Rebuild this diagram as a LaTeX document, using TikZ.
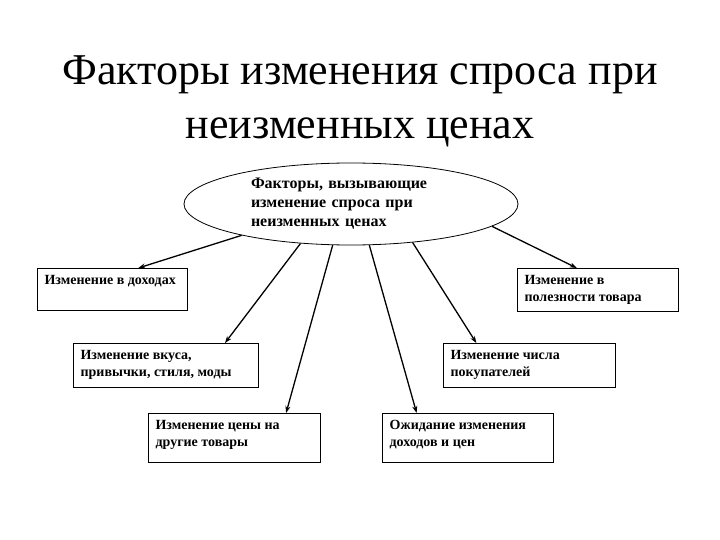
\documentclass[tikz,border=0pt]{standalone}
\usepackage{fontspec}
\setmainfont{Liberation Serif}
\usetikzlibrary{shapes.geometric,arrows.meta}

\newcommand{\factortext}[3]{\parbox[c][#2][t]{#1}{\vspace*{7pt}#3}}

\begin{document}
\begin{tikzpicture}[x=1pt, y=-1pt]
    \tikzstyle{factorbox}=[draw=black, line width=1.2pt, inner xsep=7pt, inner ysep=0pt, anchor=north west, align=left, font=\bfseries\fontsize{14}{17}\selectfont]
    \tikzstyle{factorarrow}=[line width=1.3pt, -{Stealth[length=7pt, width=5pt]}]

    \useasboundingbox (0,0) rectangle (720,540);

    \node[align=center, font=\fontsize{44}{54}\selectfont] (title) at (360,101) {Факторы изменения спроса при\\неизменных ценах};

    \node[draw=black, line width=0.8pt, ellipse, minimum width=334pt, minimum height=82pt, inner sep=0pt,
          text width=200pt, align=left, font=\bfseries\fontsize{16}{19}\selectfont] (main) at (351,204)
          {Факторы, вызывающие\\изменение спроса при\\неизменных ценах};

    \node[factorbox] (income) at (37,268) {\factortext{136pt}{42pt}{Изменение в доходах}};
    \node[factorbox] (taste) at (73,343) {\factortext{171pt}{44pt}{Изменение вкуса,\\привычки, стиля, моды}};
    \node[factorbox] (prices) at (148,413) {\factortext{158pt}{49pt}{Изменение цены на\\другие товары}};
    \node[factorbox] (expect) at (382,413) {\factortext{157pt}{49pt}{Ожидание изменения\\доходов и цен}};
    \node[factorbox] (buyers) at (443,343) {\factortext{158pt}{44pt}{Изменение числа\\покупателей}};
    \node[factorbox] (utility) at (517,268) {\factortext{147pt}{43pt}{Изменение в\\полезности товара}};

    \draw[factorarrow] (main.196) -- (income.40);
    \draw[factorarrow] (main.218) -- (taste.21);
    \draw[factorarrow] (main.246) -- (prices.26);
    \draw[factorarrow] (main.294) -- (expect.154);
    \draw[factorarrow] (main.328) -- (buyers.157);
    \draw[factorarrow] (main.351) -- (utility.134);
  \end{tikzpicture}
\end{document}
